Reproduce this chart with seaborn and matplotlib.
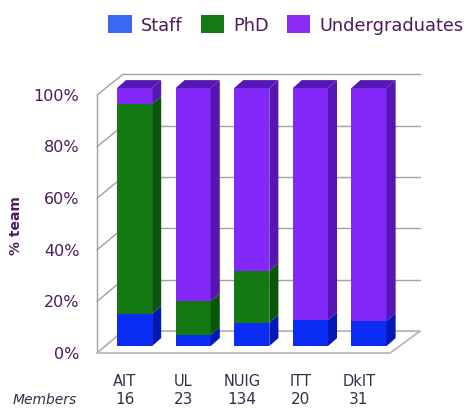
import matplotlib
matplotlib.use("Agg")
import matplotlib.pyplot as plt
from matplotlib.patches import Polygon, Patch
import numpy as np
import seaborn as sns

# team composition per institute (% of members)
schools = ["AIT", "UL", "NUIG", "ITT", "DkIT"]
members = [16, 23, 134, 20, 31]
staff = [12.5, 4.3, 9.0, 10.0, 9.7]
phd = [81.2, 13.0, 20.1, 0.0, 0.0]
undergrad = [6.3, 82.7, 70.9, 90.0, 90.3]

series = ["Staff", "PhD", "Undergraduates"]
front_cols = ["#0b2cf5", "#137a13", "#8228f8"]
side_cols = ["#0418b8", "#07560a", "#5616b4"]
legend_cols = ["#3a68f0", "#157a15", "#8a2cf4"]
txt_col = "#4d1a5c"

sns.set_style("white")
plt.rcParams["font.family"] = ["DejaVu Sans"]

fig = plt.figure(figsize=(4.7, 4.1), dpi=100)
ax = fig.add_axes([0.1927, 0.122, 0.717, 0.711])

# fake 3D box: floor, back wall grid, left wall
dx, dy = 0.155, 3.1
floor = Polygon([(-0.64, -2.7), (4.36, -2.7), (4.87, 5.8), (-0.196, 5.8)],
                closed=True, fc="white", ec="#b4b4b4", lw=1.2, zorder=1)
ax.add_patch(floor)
for k in range(6):
    yb = 5.8 + k * 19.92
    yf = -2.7 + k * 20
    ax.plot([-0.196, 4.87], [yb, yb], color="#a0a0a0", lw=1, zorder=0.5)
    ax.plot([-0.64, -0.196], [yf, yb], color="#a0a0a0", lw=1, zorder=0.5)
ax.plot([-0.64, -0.64], [-2.7, 97.3], color="#a0a0a0", lw=1, zorder=0.5)

# stacked bars: draw cumulative heights, tallest first
vals = np.array([staff, phd, undergrad])
tops = vals.cumsum(axis=0)
bottoms = tops - vals
for i in [2, 1, 0]:
    sns.barplot(x=schools, y=tops[i], order=schools, color=front_cols[i],
                saturation=1, width=0.6, edgecolor="none", ax=ax, zorder=3)

# side and top faces from the bar geometry
for j, bar in enumerate(ax.containers[0]):
    xl = bar.get_x()
    xr = xl + bar.get_width()
    for i in range(3):
        b, t = bottoms[i][j], tops[i][j]
        if t - b <= 0:
            continue
        ax.add_patch(Polygon([(xr, b), (xr + dx, b + dy), (xr + dx, t + dy), (xr, t)],
                             closed=True, fc=side_cols[i], ec="none", zorder=3))
    top_i = max(i for i in range(3) if vals[i][j] > 0)
    t = tops[top_i][j]
    ax.add_patch(Polygon([(xl, t), (xl + dx, t + dy), (xr + dx, t + dy), (xr, t)],
                         closed=True, fc=side_cols[top_i], ec="none", zorder=3))

ax.set_xlim(-0.75, 5.0)
ax.set_ylim(-5, 108)
for s in ax.spines.values():
    s.set_visible(False)
ax.set_xlabel("")
ax.set_ylabel("")

ax.set_yticks([-2.2 + 20 * k for k in range(6)], [f"{20 * k}%" for k in range(6)])
ax.set_xticks(np.arange(len(schools)) - 0.17, schools)
ax.tick_params(axis="y", length=0, pad=8, labelsize=11.5, labelcolor=txt_col)
ax.tick_params(axis="x", length=0, pad=10, labelsize=10.5, labelcolor="#3a2a4a")

# members row
for j, m in enumerate(members):
    ax.annotate(str(m), xy=(j - 0.17, 0.025), xycoords=("data", "figure fraction"),
                ha="center", va="center", fontsize=11, color="#3a2a4a")
fig.text(0.096, 0.025, "Members", ha="center", va="center", fontsize=10,
         style="italic", color="#3a2a4a")

fig.text(0.034, 0.449, "% team", rotation=90, ha="center", va="center",
         fontsize=10, fontweight="bold", color=txt_col)

handles = [Patch(facecolor=c, edgecolor="none") for c in legend_cols]
fig.legend(handles, series, ncol=3, loc="upper center", bbox_to_anchor=(0.609, 1.0),
           frameon=False, handlelength=1.3, handleheight=1.2, columnspacing=1.0,
           handletextpad=0.55, fontsize=12.8, labelcolor=txt_col)

fig.savefig("out.png", dpi=100)
